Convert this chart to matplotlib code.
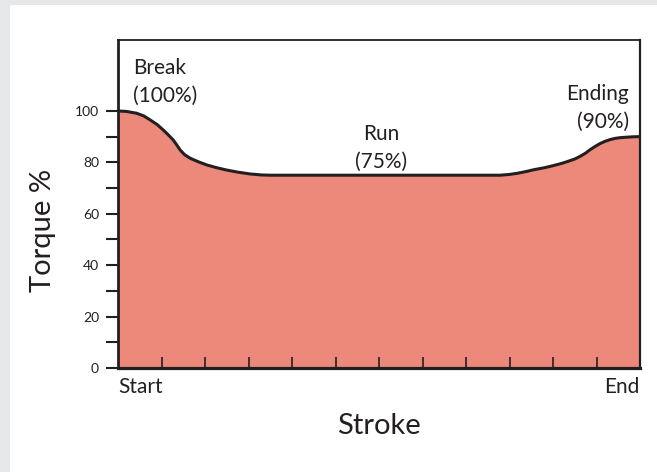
import matplotlib.pyplot as plt
from matplotlib.patches import Rectangle


# torque profile (stroke in 12 equal steps, torque in %)
stroke = [0, 0.2, 0.43, 0.6, 0.74, 0.9, 1.04, 1.15, 1.27, 1.35, 1.43, 1.53, 1.66,
          1.85, 2.04, 2.25, 2.5, 2.75, 3.03, 3.3, 3.5, 4, 6, 8,
          8.79, 9.0, 9.2, 9.4, 9.55, 9.8, 10.0, 10.2, 10.33, 10.5, 10.62, 10.75,
          10.85, 10.97, 11.08, 11.2, 11.3, 11.42, 11.54, 11.7, 11.85, 12]
torque = [100, 99.8, 99.1, 98.0, 96.5, 94.7, 92.6, 90.8, 88.7, 86.8, 84.8, 83.0, 81.6,
          80.2, 79.0, 78.0, 77.0, 76.2, 75.5, 75.1, 75, 75, 75, 75,
          75, 75.3, 75.8, 76.5, 77.1, 77.9, 78.7, 79.6, 80.3, 81.3, 82.3, 83.6,
          84.9, 86.2, 87.3, 88.2, 88.8, 89.3, 89.6, 89.8, 89.95, 90]

y_major = [0, 20, 40, 60, 80, 100]
y_minor = [10, 30, 50, 70, 90]
x_ticks = list(range(1, 12))

# phase labels: (name, value text, x, baseline of first line, alignment)
phases = [("Break", "(100%)", 0.345, 114.4, "left"),
          ("Run", "(75%)", 6.05, 88.7, "center"),
          ("Ending", "(90%)", 11.75, 104.3, "right")]

INK = "#231f20"
FILL = "#ec897a"

plt.rcParams['font.family'] = ['Lato', 'DejaVu Sans']

fig = plt.figure(figsize=(6.57, 4.72), dpi=100)
fig.patch.set_facecolor("#e6e7e8")
fig.patches.append(Rectangle((10 / 657, 0), 1, 1 - 5 / 472, transform=fig.transFigure,
                             facecolor="white", edgecolor="none", zorder=-10))

ax = fig.add_axes([118 / 657, 104 / 472, 522 / 657, 328 / 472])
ax.set_facecolor("white")

ax.fill_between(stroke, torque, 0, color=FILL, lw=0, zorder=1)
ax.plot(stroke, torque, color=INK, lw=2.2, zorder=2, solid_joinstyle="round")

ax.set_xlim(0, 12)
ax.set_ylim(0, 127.6)

# spines - bottom/left heavier than top/right
for side, w in [("bottom", 2.3), ("left", 2.0), ("top", 1.3), ("right", 1.6)]:
    ax.spines[side].set_linewidth(w)
    ax.spines[side].set_color(INK)

ax.set_yticks(y_major)
ax.set_yticks(y_minor, minor=True)
ax.tick_params(axis="y", which="both", direction="out", length=8.6, width=1.5,
               color=INK, labelsize=10, labelcolor=INK, pad=5)
ax.set_xticks(x_ticks)
ax.tick_params(axis="x", which="major", direction="in", length=8, width=1.2,
               color=INK, labelbottom=False)

# Start / End under the axis
ax.text(0, -9.8, "Start", ha="left", va="baseline", fontsize=15, color=INK, clip_on=False)
ax.text(12, -9.8, "End", ha="right", va="baseline", fontsize=15, color=INK, clip_on=False)

ax.text(0.5, -0.201, "Stroke", transform=ax.transAxes, ha="center", va="baseline",
        fontsize=21, color=INK)
fig.text(51 / 657, 1 - 230 / 472, "Torque %", rotation=90, rotation_mode="anchor",
         ha="center", va="baseline", fontsize=21, color=INK)

for name, val, x, y, ha in phases:
    ax.text(x, y, name, ha=ha, va="baseline", fontsize=15, color=INK)
    ax.text(x, y - 10.8, val, ha=ha, va="baseline", fontsize=15, color=INK)

fig.savefig("out.png", dpi=100, facecolor=fig.get_facecolor())
